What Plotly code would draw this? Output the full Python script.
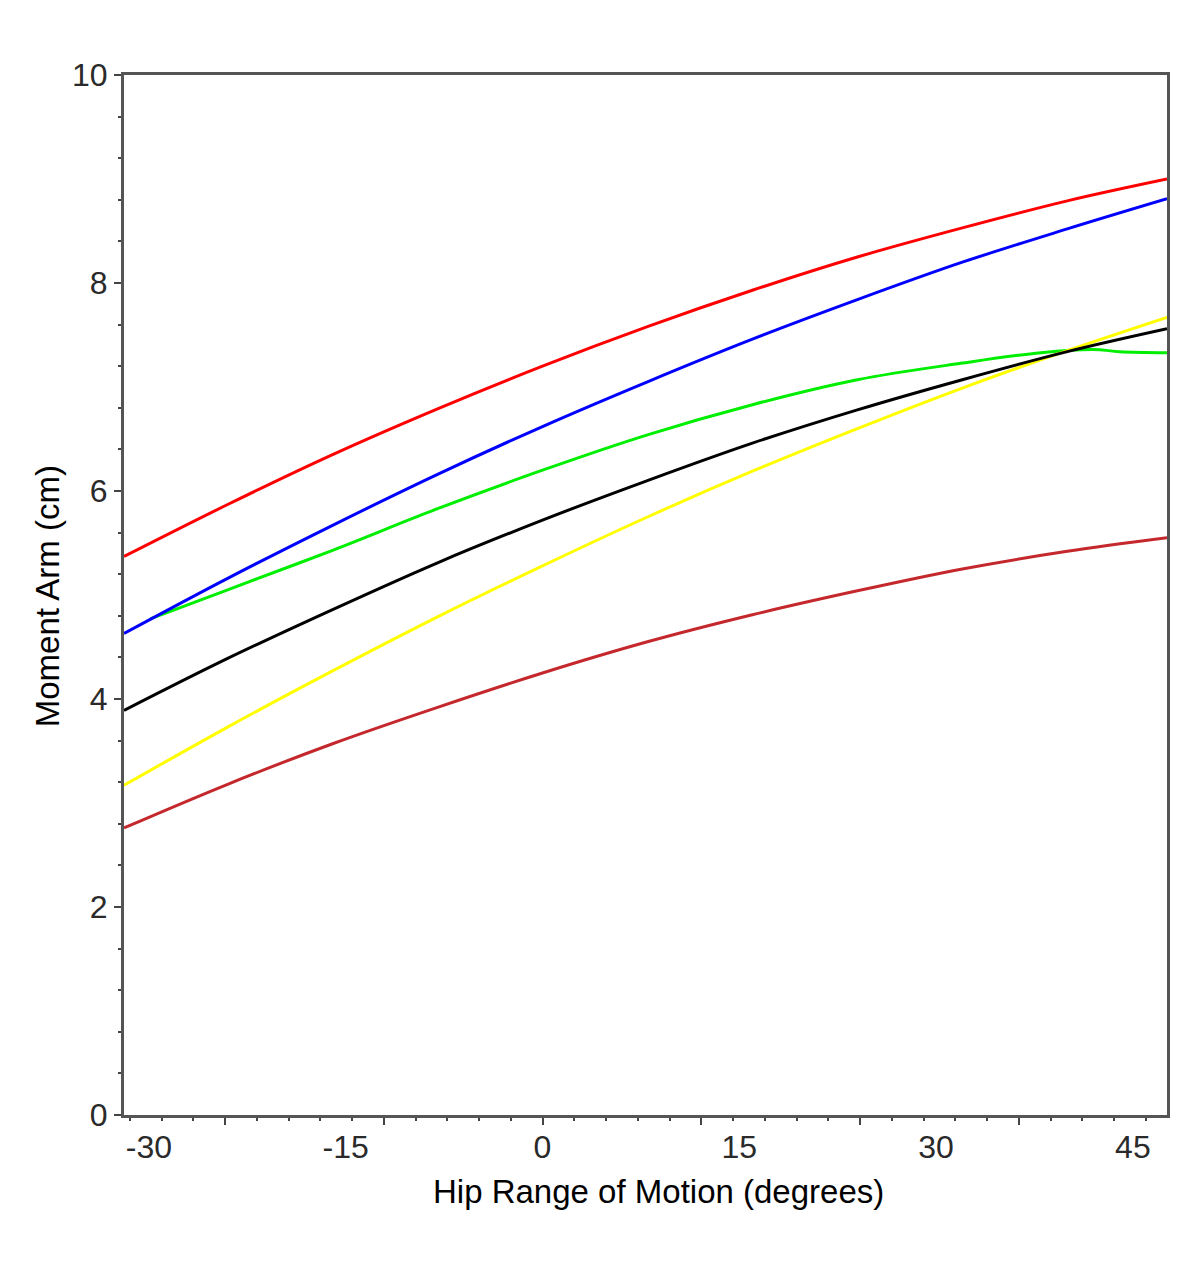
import plotly.graph_objects as go

# Hip angle (degrees) at which values were read
hip_deg = [-31.9, -24, -16, -8, 0, 8, 16, 24, 32, 40, 47.6]

red_arm = [5.37, 5.87, 6.35, 6.79, 7.20, 7.58, 7.93, 8.25, 8.53, 8.79, 9.00]
blue_arm = [4.63, 5.16, 5.67, 6.16, 6.62, 7.05, 7.46, 7.84, 8.20, 8.52, 8.81]
black_arm = [3.89, 4.39, 4.86, 5.31, 5.72, 6.10, 6.46, 6.78, 7.07, 7.34, 7.56]
yellow_arm = [3.17, 3.73, 4.27, 4.79, 5.28, 5.75, 6.19, 6.60, 6.99, 7.35, 7.67]
darkred_arm = [2.76, 3.18, 3.57, 3.92, 4.25, 4.55, 4.81, 5.04, 5.25, 5.42, 5.55]

green_deg = [-29.9, -24, -16, -8, 0, 8, 16, 24, 32, 38, 42, 44, 47.6]
green_arm = [4.77, 5.05, 5.43, 5.83, 6.20, 6.54, 6.83, 7.07, 7.23, 7.33, 7.36, 7.34, 7.33]

x_tick_labels = [-30, -15, 0, 15, 30, 45]
y_tick_labels = [0, 2, 4, 6, 8, 10]

x_title = "Hip Range of Motion (degrees)"
y_title = "Moment Arm (cm)"

X_RANGE = [-31.9, 47.6]
Y_RANGE = [0, 10]

fig = go.Figure()

series = [
    (green_deg, green_arm, "#00ee00"),
    (hip_deg, yellow_arm, "#ffff00"),
    (hip_deg, darkred_arm, "#c4282c"),
    (hip_deg, black_arm, "#000000"),
    (hip_deg, blue_arm, "#0000ff"),
    (hip_deg, red_arm, "#ff0000"),
]
for xs, ys, col in series:
    fig.add_trace(go.Scatter(x=xs, y=ys, mode="lines",
                             line=dict(color=col, width=3, shape="spline", smoothing=1.0),
                             showlegend=False, hoverinfo="skip"))

# empty trace to activate the label axis
fig.add_trace(go.Scatter(x=[], y=[], xaxis="x2", showlegend=False))

tick_font = dict(family="Liberation Sans Narrow, Arial Narrow, Liberation Sans, Arial", size=32, color="#2a2a2a")
title_font = dict(family="Liberation Sans, Arial", size=33, color="#000000")

fig.update_layout(
    width=1200, height=1270,
    margin=dict(l=116, r=41, t=67, b=163),
    plot_bgcolor="white", paper_bgcolor="white",
    xaxis=dict(
        range=X_RANGE, showgrid=False, zeroline=False,
        showline=True, linecolor="#555555", linewidth=3, mirror=True,
        tickmode="linear", tick0=0, dtick=12.1,
        ticks="outside", ticklen=7, tickwidth=2, tickcolor="#444444",
        showticklabels=False,
        minor=dict(tickmode="linear", tick0=0, dtick=2.42, ticks="outside",
                   ticklen=3, tickwidth=2, tickcolor="#444444", showgrid=False),
    ),
    xaxis2=dict(
        range=X_RANGE, overlaying="x", anchor="y", side="bottom",
        showgrid=False, zeroline=False, showline=False,
        tickmode="array", tickvals=x_tick_labels,
        ticktext=[str(v) for v in x_tick_labels],
        ticks="", tickfont=tick_font, ticklabelstandoff=10,
    ),
    yaxis=dict(
        range=Y_RANGE, showgrid=False, zeroline=False,
        showline=True, linecolor="#555555", linewidth=3, mirror=True,
        tickmode="array", tickvals=y_tick_labels,
        ticktext=[str(v) for v in y_tick_labels],
        ticks="outside", ticklen=7, tickwidth=2, tickcolor="#444444",
        tickfont=tick_font,
        minor=dict(tickmode="linear", tick0=0, dtick=0.4, ticks="outside",
                   ticklen=3, tickwidth=2, tickcolor="#444444", showgrid=False),
    ),
    annotations=[
        dict(text=x_title, xref="paper", yref="paper", x=0.512, y=-0.074,
             xanchor="center", yanchor="middle", showarrow=False, font=title_font),
        dict(text=y_title, xref="paper", yref="paper", x=-0.0736, y=0.499,
             xanchor="center", yanchor="middle", showarrow=False, font=title_font,
             textangle=-90),
    ],
)

fig.write_html("out.html")
